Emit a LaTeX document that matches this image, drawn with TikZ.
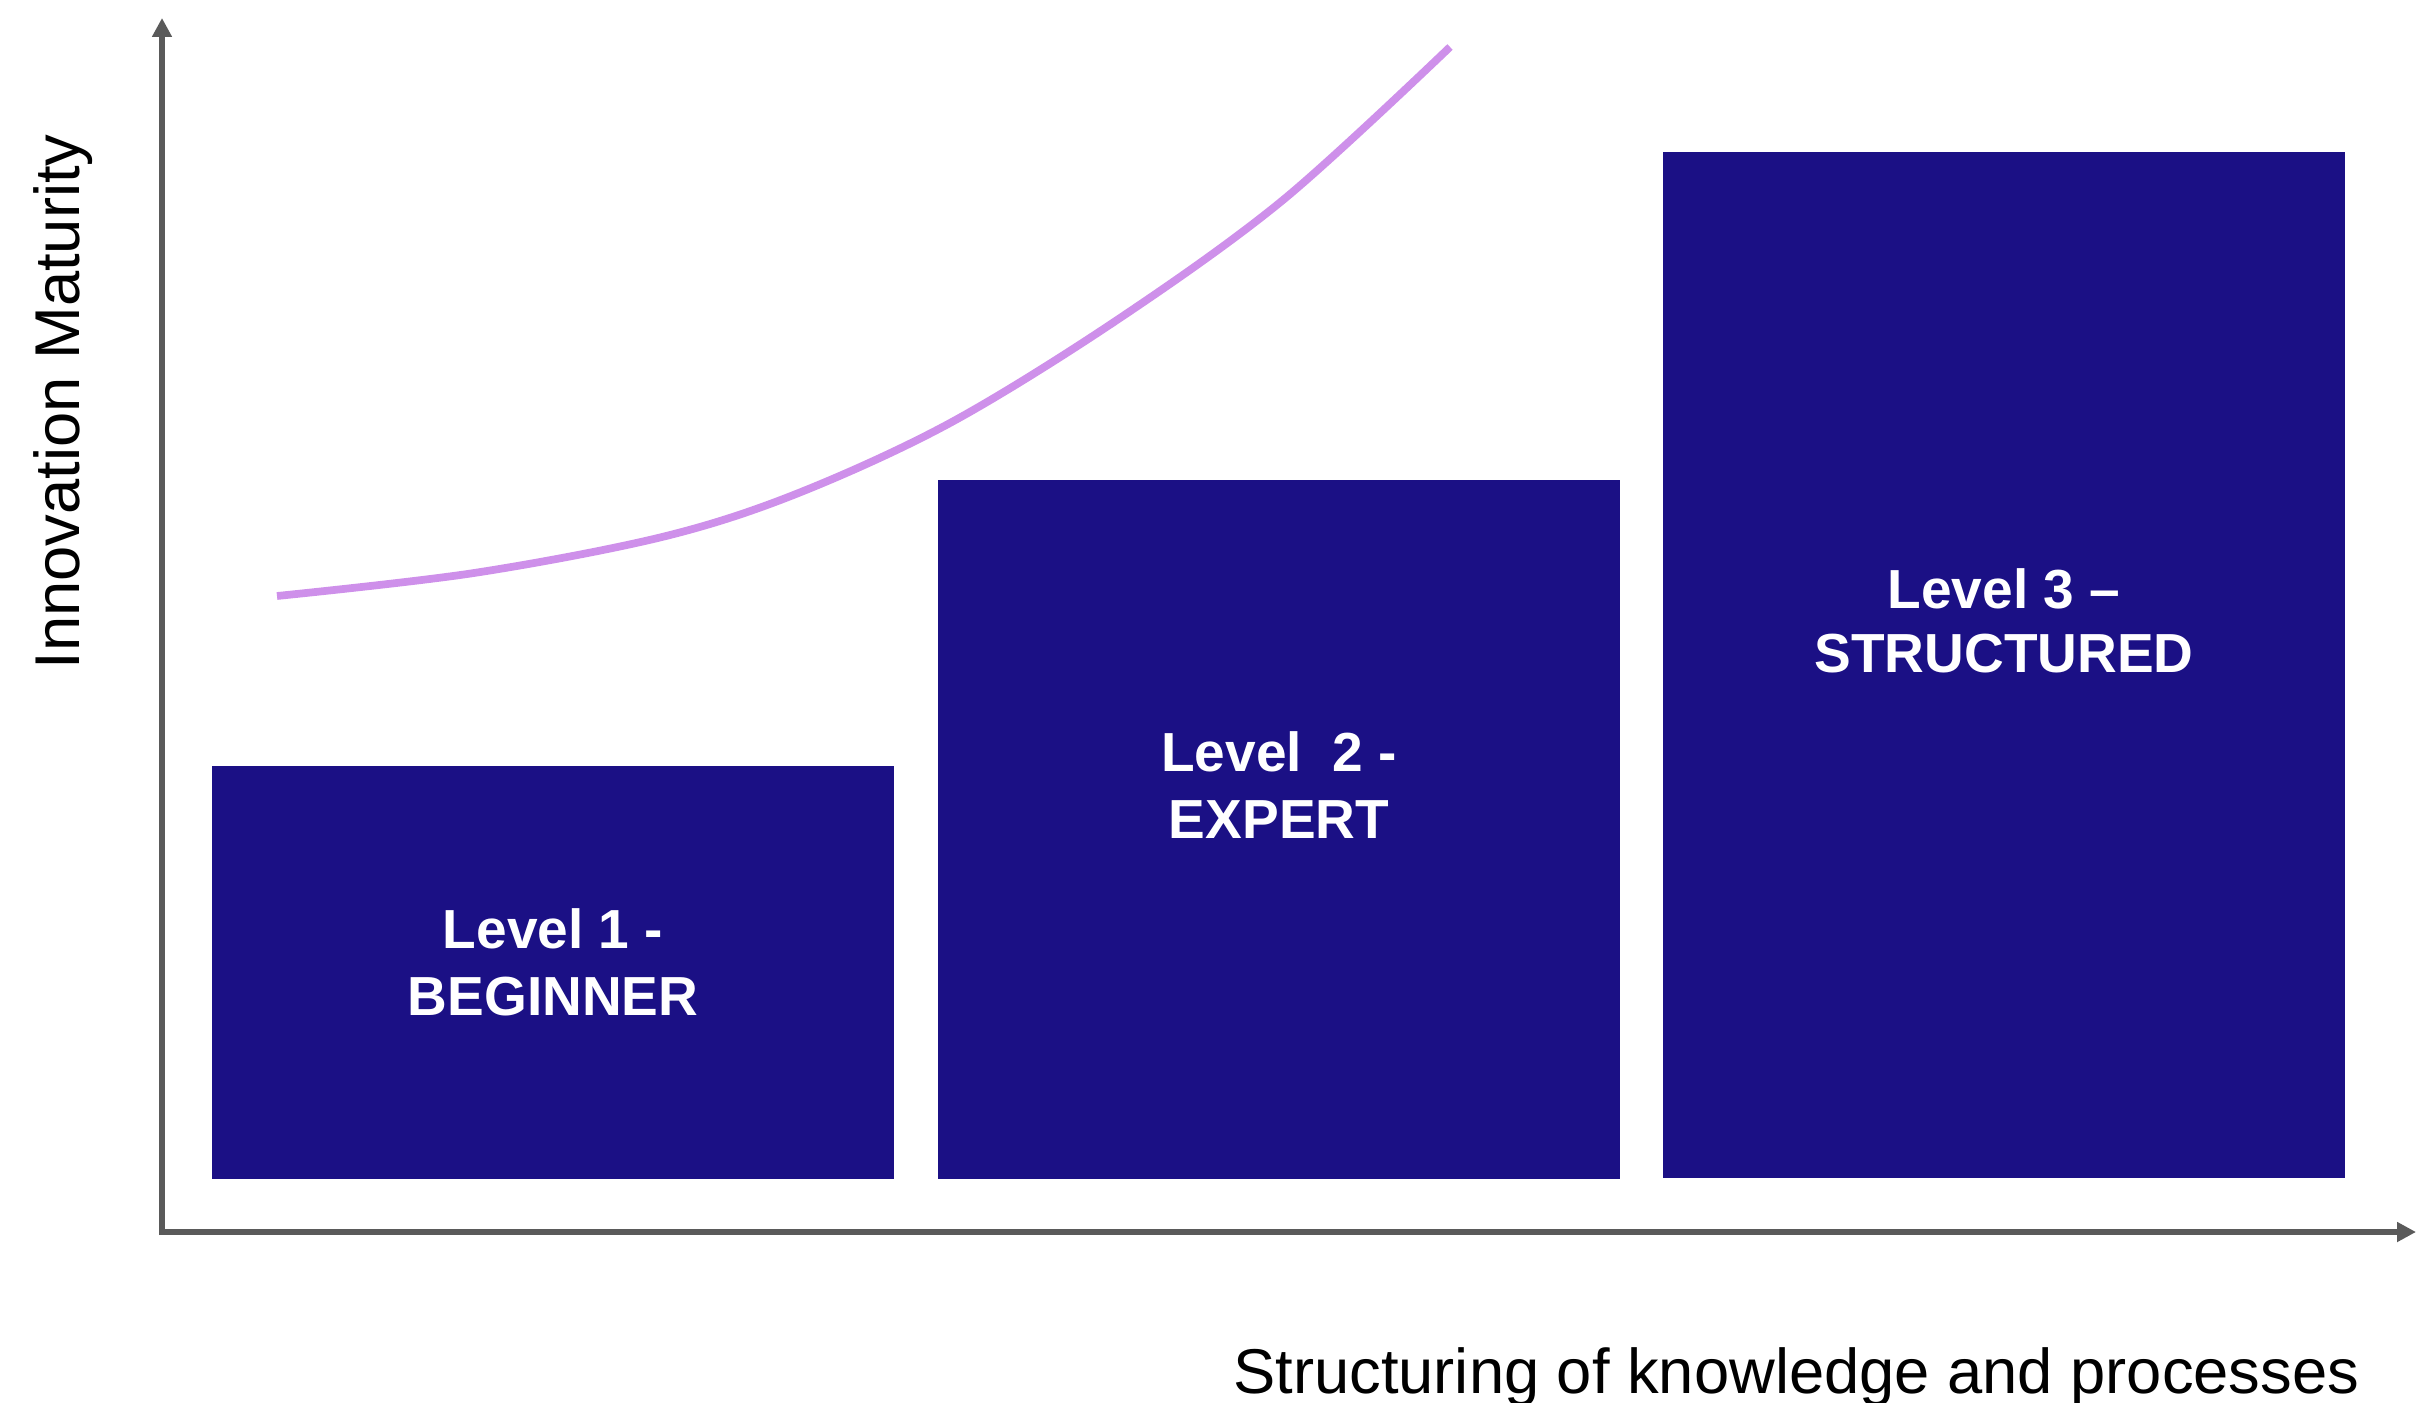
\documentclass[tikz,border=0pt]{standalone}
\usepackage{fontspec}
\setmainfont{Liberation Sans}
\usetikzlibrary{arrows.meta}
\definecolor{boxblue}{HTML}{1B1085}
\definecolor{curvelav}{HTML}{CE90EA}
\definecolor{axisgrey}{HTML}{5A5A5A}
\tikzset{
  lvlbox/.style={fill=boxblue, draw=none, inner sep=0pt, outer sep=0pt},
  lvltext/.style={text=white, font=\fontsize{15.65pt}{19pt}\selectfont\bfseries, inner sep=0pt, anchor=base},
  axisline/.style={draw=axisgrey, line width=1.7pt, -{Triangle[length=5.4pt,width=5.4pt]}},
  axislabel/.style={font=\fontsize{18pt}{22pt}\selectfont, inner sep=0pt, text=black},
  growth/.style={draw=curvelav, line width=2.2pt}
}
\begin{document}
\begin{tikzpicture}[x=0.01cm,y=-0.01cm]
\useasboundingbox (0,0) rectangle (2418,1403);
% boxes
\node[lvlbox, minimum width=6.82cm, minimum height=4.13cm] (b1) at (553,972.5) {};
\node[lvlbox, minimum width=6.82cm, minimum height=6.99cm] (b2) at (1279,829.5) {};
\node[lvlbox, minimum width=6.82cm, minimum height=10.26cm] (b3) at (2004,665) {};
% box texts
\node[lvltext] (t1a) at (553,948) {Level 1 -};
\node[lvltext] (t1b) at (553,1015) {BEGINNER};
\node[lvltext] (t2a) at (1279,771) {Level\ \ 2 -};
\node[lvltext] (t2b) at (1279,838) {EXPERT};
\node[lvltext] (t3a) at (2004,608) {Level 3 --};
\node[lvltext] (t3b) at (2004,672) {STRUCTURED};
% axes
\coordinate (O) at (162,1232);
\coordinate (Ybot) at (162,1235);
\coordinate (Ytip) at (162,18);
\coordinate (Xstart) at (159,1232);
\coordinate (Xtip) at (2416,1232);
\draw[axisline] (Ybot) -- (Ytip);
\draw[axisline] (Xstart) -- (Xtip);
% axis labels
\node[axislabel, rotate=90, anchor=base west] (ylab) at (80,670) {Innovation Maturity};
\node[axislabel, anchor=base east] (xlab) at (2360,1393) {Structuring of knowledge and processes};
% growth curve
\draw[growth] plot[smooth, tension=0.55] coordinates {(277,596) (474,573) (662,537) (796,494) (950,423) (1117,320) (1283,200) (1450,47)};
\end{tikzpicture}
\end{document}
